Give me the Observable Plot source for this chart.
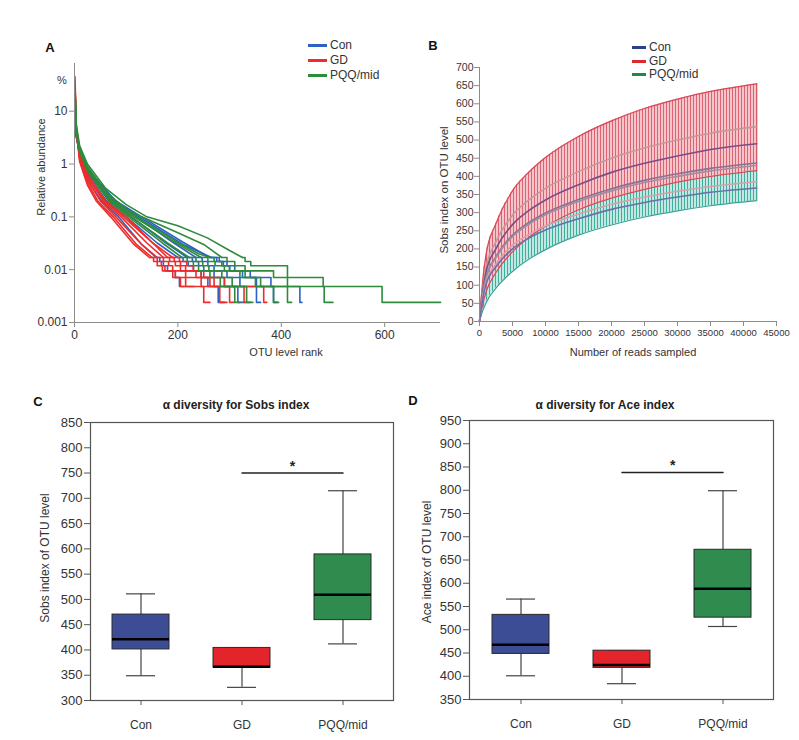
<!DOCTYPE html>
<html>
<head>
<meta charset="utf-8">
<script src="https://cdn.jsdelivr.net/npm/d3@7"></script>
<script src="https://cdn.jsdelivr.net/npm/@observablehq/plot@0.6"></script>
<style>
  body { margin: 0; background: #fff; }
  #fig { position: relative; width: 799px; height: 740px; overflow: hidden;
         font-family: "Liberation Sans", Arial, Helvetica, sans-serif; color: #333; background: #fff; }
  .t { position: absolute; white-space: nowrap; line-height: 1; }
  .sw { position: absolute; height: 3px; }
</style>
</head>
<body>
<svg width="0" height="0" style="position:absolute">
  <defs>
    <pattern id="hatchRed" patternUnits="userSpaceOnUse" width="3" height="10">
      <rect width="3" height="10" fill="#f4c5ca"></rect>
      <rect x="0" width="1" height="10" fill="#dd6272"></rect>
    </pattern>
    <pattern id="hatchTeal" patternUnits="userSpaceOnUse" width="3" height="10">
      <rect width="3" height="10" fill="#c3e8e2"></rect>
      <rect x="0" width="1" height="10" fill="#40ae9f"></rect>
    </pattern>
  </defs>
</svg>
<div id="fig"></div>
<script>
// ---------------- DATA ----------------
const groups = ["Con", "GD", "PQQ/mid"];

// Panel A: rank-abundance curves (rank, relative abundance %), head = smooth part, tail = stepped part
const conCurves = [
  {head: [[1,25],[3,5],[10,1.3],[25,0.5],[52,0.2],[85,0.1],[130,0.03],[158,0.017]],
   tail: [[158,0.017],[165,0.0143],[172,0.0119],[180,0.0095],[195,0.0071],[203,0.0048],[212,0.0048]]},
  {head: [[1,20],[3,4],[10,1.5],[25,0.65],[62,0.2],[100,0.1],[160,0.032],[200,0.017]],
   tail: [[200,0.017],[210,0.0143],[220,0.0119],[230,0.0095],[245,0.0071],[258,0.0048],[278,0.0024],[290,0.0024]]},
  {head: [[1,18],[3,4],[10,1.6],[25,0.7],[68,0.2],[110,0.1],[175,0.033],[218,0.017]],
   tail: [[218,0.017],[228,0.0143],[240,0.0119],[250,0.0095],[270,0.0071],[290,0.0048],[316,0.0024],[330,0.0024]]},
  {head: [[1,15],[3,3.5],[10,1.6],[25,0.75],[75,0.2],[120,0.1],[190,0.033],[235,0.017]],
   tail: [[235,0.017],[247,0.0143],[258,0.0119],[270,0.0095],[295,0.0071],[320,0.0048],[352,0.0024],[360,0.0024]]},
  {head: [[1,14],[3,3.5],[10,1.7],[25,0.8],[80,0.2],[130,0.1],[210,0.033],[262,0.017]],
   tail: [[262,0.017],[275,0.0143],[288,0.0119],[300,0.0095],[325,0.0071],[352,0.0048],[385,0.0024],[392,0.0024]]},
  {head: [[1,16],[3,3.5],[10,1.6],[25,0.8],[78,0.2],[125,0.1],[210,0.03],[265,0.017]],
   tail: [[265,0.017],[280,0.0143],[295,0.0119],[310,0.0095],[340,0.0071],[380,0.0048],[436,0.0024],[440,0.0024]]}
];
const gdCurves = [
  {head: [[1,45],[3,6],[10,1.2],[25,0.45],[45,0.2],[75,0.1],[120,0.03],[150,0.017]],
   tail: [[150,0.017],[160,0.0143],[168,0.0119],[175,0.0095],[195,0.0071],[215,0.0048],[250,0.0024],[262,0.0024]]},
  {head: [[1,30],[3,5],[10,1.3],[25,0.5],[50,0.2],[80,0.1],[130,0.03],[160,0.017]],
   tail: [[160,0.017],[172,0.0143],[182,0.0119],[190,0.0095],[215,0.0071],[245,0.0048],[300,0.0024],[310,0.0024]]},
  {head: [[1,25],[3,4.5],[10,1.5],[25,0.6],[55,0.2],[90,0.1],[140,0.032],[172,0.017]],
   tail: [[172,0.017],[184,0.0143],[195,0.0119],[205,0.0095],[235,0.0071],[270,0.0048],[328,0.0024],[340,0.0024]]},
  {head: [[1,20],[3,4],[10,1.6],[25,0.65],[60,0.2],[100,0.1],[150,0.033],[180,0.017]],
   tail: [[180,0.017],[193,0.0143],[205,0.0119],[215,0.0095],[250,0.0071],[290,0.0048],[366,0.0024],[372,0.0024]]},
  {head: [[1,35],[3,5],[10,1.1],[25,0.4],[42,0.2],[70,0.1],[115,0.03],[145,0.017]],
   tail: [[145,0.017],[153,0.0143],[160,0.0119],[170,0.0095],[190,0.0071],[205,0.0048],[232,0.0048]]},
  {head: [[1,28],[3,5],[10,1.4],[25,0.55],[58,0.2],[95,0.1],[150,0.033],[190,0.017]],
   tail: [[190,0.017],[203,0.0143],[217,0.0119],[230,0.0095],[245,0.0071],[262,0.0048],[281,0.0024],[295,0.0024]]}
];
const pqqCurves = [
  {head: [[1,28],[3,6],[10,2.2],[25,1],[60,0.35],[100,0.17],[140,0.1],[200,0.068],[257,0.04],[300,0.023],[325,0.017]],
   tail: [[325,0.017],[330,0.0143],[341,0.0119],[412,0.0071],[481,0.0048],[595,0.0024],[708,0.0024]]},
  {head: [[1,22],[3,5],[10,2],[25,0.9],[60,0.3],[100,0.14],[130,0.1],[200,0.05],[250,0.03],[285,0.017]],
   tail: [[285,0.017],[295,0.0143],[310,0.0119],[330,0.0095],[385,0.0071],[412,0.0048],[483,0.0024],[500,0.0024]]},
  {head: [[1,20],[3,4.5],[10,1.8],[25,0.8],[72,0.2],[115,0.1],[190,0.035],[245,0.017]],
   tail: [[245,0.017],[258,0.0143],[272,0.0119],[290,0.0095],[320,0.0071],[350,0.0048],[412,0.0024],[420,0.0024]]},
  {head: [[1,24],[3,5],[10,1.8],[25,0.8],[70,0.2],[110,0.1],[180,0.032],[222,0.017]],
   tail: [[222,0.017],[235,0.0143],[248,0.0119],[260,0.0095],[285,0.0071],[305,0.0048],[333,0.0024],[345,0.0024]]},
  {head: [[1,26],[3,5],[10,1.7],[25,0.75],[66,0.2],[105,0.1],[170,0.032],[208,0.017]],
   tail: [[208,0.017],[218,0.0143],[230,0.0119],[240,0.0095],[262,0.0071],[282,0.0048],[310,0.0024],[320,0.0024]]},
  {head: [[1,20],[3,4.5],[10,1.9],[25,0.85],[75,0.2],[120,0.1],[195,0.035],[240,0.02],[262,0.017]],
   tail: [[262,0.017],[270,0.0143],[285,0.0119],[300,0.0095],[330,0.0071],[360,0.0048],[385,0.0024],[395,0.0024]]}
];
const rankTicks = [0, 200, 400, 600];
const abundTicks = [0.001, 0.01, 0.1, 1, 10];

// Panel B: rarefaction (reads sampled -> Sobs)
const depths   = [0, 500, 1000, 2500, 5000, 7500, 10000, 15000, 20000, 25000, 30000, 35000, 42000];
const gdUpper  = [0, 115, 185, 270, 360, 412, 452, 510, 553, 587, 613, 634, 655];
const gdLower  = [0, 48, 82, 135, 192, 232, 262, 308, 340, 364, 384, 400, 416];
const pqqLower = [0, 30, 52, 92, 138, 172, 198, 238, 266, 288, 305, 319, 333];
const rarefactionMeans = [
  [0, 92, 150, 220, 293, 335, 367, 413, 450, 478, 500, 519, 537],
  [0, 84, 137, 201, 267, 306, 335, 377, 411, 436, 456, 474, 490],
  [0, 75, 122, 179, 238, 273, 299, 336, 366, 389, 407, 422, 437],
  [0, 74, 120, 176, 234, 268, 294, 331, 360, 383, 400, 415, 430],
  [0, 66, 108, 158, 210, 240, 263, 296, 323, 343, 359, 372, 385],
  [0, 63, 103, 151, 200, 230, 252, 283, 309, 328, 343, 356, 368]
];
const readTicks = [0, 5000, 10000, 15000, 20000, 25000, 30000, 35000, 40000, 45000];
const sobsTicksB = [0, 50, 100, 150, 200, 250, 300, 350, 400, 450, 500, 550, 600, 650, 700];

// Panel C: Sobs index box plots
const sobsMin    = [349, 326, 412];
const sobsQ1     = [401, 365, 459];
const sobsMedian = [421, 367, 509];
const sobsQ3     = [470, 404, 589];
const sobsMax    = [511, 404, 715];
const sobsSig    = 750;
const sobsTicks  = [300, 350, 400, 450, 500, 550, 600, 650, 700, 750, 800, 850];

// Panel D: Ace index box plots
const aceMin    = [401, 384, 507];
const aceQ1     = [448, 418, 526];
const aceMedian = [468, 424, 588];
const aceQ3     = [532, 455, 672];
const aceMax    = [566, 455, 799];
const aceSig    = 838;
const aceTicks  = [350, 400, 450, 500, 550, 600, 650, 700, 750, 800, 850, 900, 950];

// ---------------- STYLES ----------------
const FONT = '"Liberation Sans", Arial, Helvetica, sans-serif';
const rankColors = ["#2d62c4", "#ee2c2c", "#2e8b3c"];
const legendBColors = ["#2c3e8f", "#e0282f", "#1f8b41"];
const meanLineColors = ["#c4999e", "#7b4d88", "#8d6f94", "#a08f9f", "#d7a0aa", "#6b6fa9"];
const boxColors = ["#3c4d96", "#e3242b", "#2f8b4e"];
const AXIS = "#8c8c8c";

const fig = document.getElementById("fig");
function placeSvg(svg, left, top) {
  svg.style.position = "absolute";
  svg.style.left = left + "px";
  svg.style.top = top + "px";
  fig.appendChild(svg);
}
function addText(str, cx, cy, o = {}) {
  const d = document.createElement("div");
  d.className = "t";
  d.textContent = str;
  d.style.left = cx + "px";
  d.style.top = cy + "px";
  d.style.fontSize = (o.size || 11) + "px";
  if (o.bold) d.style.fontWeight = "bold";
  if (o.color) d.style.color = o.color;
  const anchor = o.anchor === "start" ? "translate(0,-50%)" : "translate(-50%,-50%)";
  d.style.transform = anchor + (o.rotate ? ` rotate(${o.rotate}deg)` : "");
  fig.appendChild(d);
}
function addLegend(x0, ys, swW, colors, size) {
  groups.forEach((g, i) => {
    const s = document.createElement("div");
    s.className = "sw";
    s.style.left = x0 + "px";
    s.style.top = (ys[i] - 1.5) + "px";
    s.style.width = swW + "px";
    s.style.background = colors[i];
    fig.appendChild(s);
    addText(g, x0 + swW + 3, ys[i], {size, anchor: "start", color: "#333"});
  });
}

// ---------------- PANEL A ----------------
const headRows = [], tailRows = [];
[conCurves, gdCurves, pqqCurves].forEach((set, gi) => set.forEach((c, ci) => {
  const id = groups[gi] + "-" + ci;
  c.head.forEach(([r, v]) => headRows.push({group: groups[gi], id, r, v}));
  c.tail.forEach(([r, v]) => tailRows.push({group: groups[gi], id, r, v}));
}));

const plotA = Plot.plot({
  width: 460, height: 370,
  marginLeft: 74, marginRight: 20, marginTop: 63, marginBottom: 48,
  style: {fontFamily: FONT, fontSize: "12px", color: "#333", background: "transparent", overflow: "visible"},
  x: {domain: [0, 708]},
  y: {type: "log", domain: [0.001, 80]},
  color: {domain: groups, range: rankColors},
  marks: [
    Plot.line(headRows, {x: "r", y: "v", z: "id", stroke: "group", strokeWidth: 1.6, curve: "linear"}),
    Plot.line(tailRows, {x: "r", y: "v", z: "id", stroke: "group", strokeWidth: 1.6, curve: "step-after"}),
    Plot.ruleX([0], {stroke: AXIS}),
    Plot.ruleY([0.001], {stroke: AXIS}),
    Plot.axisX({ticks: rankTicks, tickFormat: d => String(d), tickSize: 5, tickPadding: 3, label: null, stroke: AXIS, fill: "#333"}),
    Plot.axisY({ticks: abundTicks, tickFormat: d => String(d), tickSize: 5, tickPadding: 2, label: null, stroke: AXIS, fill: "#333"})
  ]
});
placeSvg(plotA, 0, 0);

// ---------------- PANEL B ----------------
const bandRows = depths.map((d, i) => ({d, gdHi: gdUpper[i], gdLo: gdLower[i], pqLo: pqqLower[i]}));
const lastBand = bandRows.slice(-1);
const meanLineMarks = rarefactionMeans.map((vals, k) =>
  Plot.line(vals.map((v, i) => ({d: depths[i], v})), {x: "d", y: "v", stroke: meanLineColors[k], strokeWidth: 1.6, curve: "monotone-x"})
);
const plotB = Plot.plot({
  width: 379, height: 370,
  marginLeft: 59, marginRight: 23, marginTop: 67, marginBottom: 49,
  style: {fontFamily: FONT, fontSize: "10.5px", color: "#333", background: "transparent", overflow: "visible"},
  x: {domain: [0, 45000]},
  y: {domain: [0, 700]},
  marks: [
    Plot.areaY(bandRows, {x: "d", y1: "gdLo", y2: "gdHi", fill: "url(#hatchRed)", curve: "monotone-x"}),
    Plot.areaY(bandRows, {x: "d", y1: "pqLo", y2: "gdLo", fill: "url(#hatchTeal)", curve: "monotone-x"}),
    Plot.ruleX(lastBand, {x: "d", y1: "gdLo", y2: "gdHi", stroke: "#d94856", strokeWidth: 1.2}),
    Plot.ruleX(lastBand, {x: "d", y1: "pqLo", y2: "gdLo", stroke: "#35a394", strokeWidth: 1.2}),
    Plot.line(bandRows, {x: "d", y: "gdHi", stroke: "#d94856", strokeWidth: 1.2, curve: "monotone-x"}),
    Plot.line(bandRows, {x: "d", y: "gdLo", stroke: "#d94856", strokeWidth: 1.2, curve: "monotone-x"}),
    Plot.line(bandRows, {x: "d", y: "pqLo", stroke: "#35a394", strokeWidth: 1.2, curve: "monotone-x"}),
    ...meanLineMarks,
    Plot.ruleX([0], {stroke: AXIS}),
    Plot.ruleY([0], {stroke: AXIS}),
    Plot.axisX({ticks: readTicks, tickFormat: d => String(d), tickSize: 5, tickPadding: 3, label: null, stroke: AXIS, fill: "#333", fontSize: 9.5}),
    Plot.axisY({ticks: sobsTicksB, tickFormat: d => String(d), tickSize: 5, tickPadding: 1, label: null, stroke: AXIS, fill: "#333"})
  ]
});
placeSvg(plotB, 420, 0);

// ---------------- PANELS C & D ----------------
function boxPlot({mins, q1s, meds, q3s, maxs, sig, ticks, domain, width, height, mL, mR, mT, mB}) {
  const rows = groups.map((g, i) => ({cat: g, min: mins[i], q1: q1s[i], med: meds[i], q3: q3s[i], max: maxs[i]}));
  const sigRows = [{cat: "GD", y: sig}, {cat: "PQQ/mid", y: sig}];
  const step = (width - mL - mR) / groups.length;
  return Plot.plot({
    width, height, marginLeft: mL, marginRight: mR, marginTop: mT, marginBottom: mB,
    style: {fontFamily: FONT, fontSize: "13px", color: "#333", background: "transparent", overflow: "visible"},
    x: {type: "band", domain: groups, paddingInner: 0.44, paddingOuter: 0.22},
    y: {domain},
    color: {domain: groups, range: boxColors},
    marks: [
      Plot.ruleX(rows, {x: "cat", y1: "min", y2: "q1", stroke: "#444", strokeWidth: 1.2}),
      Plot.ruleX(rows, {x: "cat", y1: "q3", y2: "max", stroke: "#444", strokeWidth: 1.2}),
      Plot.tickY(rows, {x: "cat", y: "min", inset: 14, stroke: "#444", strokeWidth: 1.2}),
      Plot.tickY(rows, {x: "cat", y: "max", inset: 14, stroke: "#444", strokeWidth: 1.2}),
      Plot.barY(rows, {x: "cat", y1: "q1", y2: "q3", fill: "cat", stroke: "#2a2a2a", strokeWidth: 1}),
      Plot.tickY(rows, {x: "cat", y: "med", stroke: "#000", strokeWidth: 2.5}),
      Plot.line(sigRows, {x: "cat", y: "y", stroke: "#222", strokeWidth: 1.5}),
      Plot.text(sigRows.slice(0, 1), {x: "cat", y: "y", text: () => "*", dx: step / 2, dy: -7, fontSize: 14, fontWeight: "bold", fill: "#222"}),
      Plot.frame({stroke: "#555", strokeWidth: 1.2}),
      Plot.axisY({ticks, tickFormat: d => String(d), tickSize: 6, tickPadding: 2, label: null, stroke: "#555", fill: "#333"}),
      Plot.axisX({tickSize: 5, tickPadding: 15, label: null, stroke: "#555", fill: "#333", fontSize: 12})
    ]
  });
}
const plotC = boxPlot({mins: sobsMin, q1s: sobsQ1, meds: sobsMedian, q3s: sobsQ3, maxs: sobsMax, sig: sobsSig,
  ticks: sobsTicks, domain: [300, 850], width: 410, height: 350, mL: 90, mR: 17, mT: 32, mB: 40});
placeSvg(plotC, 0, 390);
const plotD = boxPlot({mins: aceMin, q1s: aceQ1, meds: aceMedian, q3s: aceQ3, maxs: aceMax, sig: aceSig,
  ticks: aceTicks, domain: [350, 950], width: 389, height: 350, mL: 59, mR: 26, mT: 30, mB: 41});
placeSvg(plotD, 410, 390);

// ---------------- TEXT & LEGENDS ----------------
addText("A", 50, 47, {size: 13, bold: true, color: "#111"});
addText("B", 433, 45, {size: 13, bold: true, color: "#111"});
addText("C", 38, 401, {size: 13, bold: true, color: "#111"});
addText("D", 413, 400, {size: 13, bold: true, color: "#111"});
addText("%", 62, 80, {size: 11});
addText("Relative abundance", 41, 167, {size: 11, rotate: -90});
addText("OTU level rank", 286, 352, {size: 11});
addText("Sobs index on OTU level", 445, 190, {size: 11.5, rotate: -90});
addText("Number of reads sampled", 633, 352, {size: 11});
addText("α diversity for Sobs index", 236, 405, {size: 12, bold: true, color: "#222"});
addText("α diversity for Ace index", 605, 405, {size: 12, bold: true, color: "#222"});
addText("Sobs index of OTU level", 45, 558, {size: 12, rotate: -90});
addText("Ace index of OTU level", 427, 562, {size: 12, rotate: -90});
addLegend(308, [45, 60, 75], 19, rankColors, 12);
addLegend(632, [47, 61, 74], 14, legendBColors, 12);
</script>
</body>
</html>
